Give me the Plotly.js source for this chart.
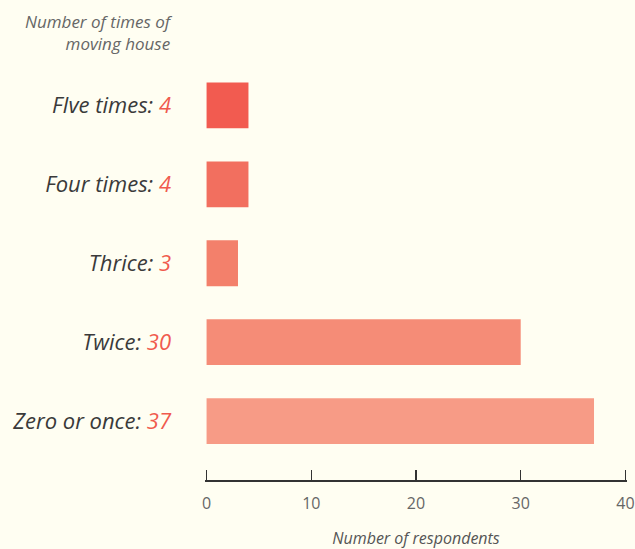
<!DOCTYPE html>
<html>
<head>
<meta charset="utf-8">
<script src="https://cdn.plot.ly/plotly-3.0.1.min.js"></script>
<style>html,body{margin:0;padding:0;background:#fffef2;}#chart{width:635px;height:549px;}</style>
</head>
<body>
<div id="chart"></div>
<script>
var categories = ["Zero or once", "Twice", "Thrice", "Four times", "FIve times"];
var values = [37, 30, 3, 4, 4];
var barColors = ["#f79b86", "#f58c77", "#f3806b", "#f26f5f", "#f25b50"];
var xTicks = [0, 10, 20, 30, 40];

var tickText = categories.map(function(c, i) {
  return "<i>" + c + ": <span style='color:#f05a4e'>" + values[i] + "</span></i>";
});

var trace = {
  type: "bar",
  orientation: "h",
  y: categories,
  x: values,
  width: 0.58,
  marker: {color: barColors},
  hoverinfo: "none"
};

var layout = {
  width: 635, height: 549,
  paper_bgcolor: "#fffef2",
  plot_bgcolor: "#fffef2",
  margin: {l: 205, r: 7.5, t: 65.5, b: 69},
  showlegend: false,
  xaxis: {
    range: [-0.15, 40.15],
    tickvals: xTicks,
    ticks: "inside",
    ticklen: 10,
    tickwidth: 1.5,
    tickcolor: "#333",
    showline: true,
    linecolor: "#333",
    linewidth: 1.5,
    showgrid: false,
    zeroline: false,
    ticklabelstandoff: 8,
    tickfont: {family: "Open Sans", size: 16, color: "#666"},
    title: {text: "<i>Number of respondents</i>", font: {family: "Open Sans", size: 16, color: "#555"}, standoff: 24}
  },
  yaxis: {
    type: "category",
    categoryorder: "array",
    categoryarray: categories,
    range: [-0.747, 4.5],
    tickvals: categories,
    ticktext: tickText,
    ticks: "",
    showline: false,
    showgrid: false,
    zeroline: false,
    ticklabelstandoff: 33,
    tickfont: {family: "Open Sans", size: 22, color: "#3a3a3a"}
  },
  annotations: [{
    xref: "paper", yref: "paper",
    x: -0.078, y: 1,
    xanchor: "right", yanchor: "bottom",
    xshift: 3,
    yshift: 9,
    align: "right",
    showarrow: false,
    text: "<i>Number of times of<br>moving house</i>",
    font: {family: "Open Sans", size: 17, color: "#666"}
  }]
};

Plotly.newPlot("chart", [trace], layout, {displayModeBar: false, staticPlot: true});
</script>
</body>
</html>
